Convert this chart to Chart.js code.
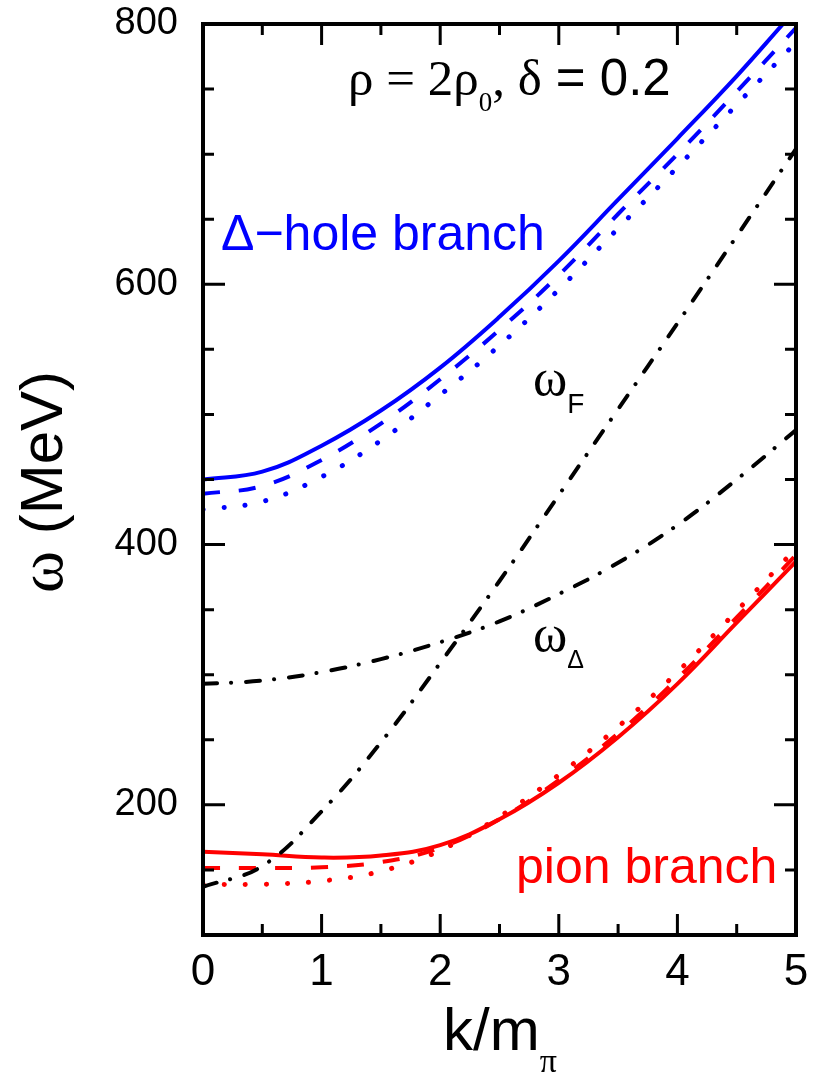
<!DOCTYPE html>
<html>
<head>
<meta charset="utf-8">
<script src="https://cdn.jsdelivr.net/npm/chart.js@4"></script>
<style>
  body { margin: 0; background: #fff; }
</style>
</head>
<body>
<canvas id="dispersion-chart" width="816" height="1082"></canvas>
<script>
 /*-------------------
 Data
 -------------------*/
 // k / m_pi
 const kGrid = [0, 0.5, 1, 1.5, 2, 2.5, 3, 3.5, 4, 4.5, 5];
 const kBlueSolid = [0, 0.5, 1, 1.5, 2, 2.5, 3, 3.5, 4, 4.5, 4.9];

 // Delta-hole branch (MeV)
 const deltaSolid  = [450, 456, 476, 503, 536, 575, 618, 665, 712, 760, 801];
 const deltaDashed = [439, 445, 465, 493, 527, 565, 607, 654, 700, 748, 797];
 const deltaDotted = [427, 433, 452, 480, 515, 553, 596, 643, 690, 738, 786];

 // pion branch (MeV)
 const pionSolid  = [164, 162, 159.5, 161, 169, 189, 217, 252, 293, 340, 387];
 const pionDashed = [151.5, 151.5, 152, 156, 167, 189, 219, 255, 297, 344, 392];
 const pionDotted = [139, 139, 141.5, 149, 165, 191, 223, 260, 302, 349, 397];

 // free dispersions, dash-dot
 const omegaF     = [137, 153, 195, 248, 309, 372, 438, 504, 570, 637, 704];
 const omegaDelta = [293, 295.5, 302, 312, 325, 341, 362, 386, 415, 450, 488];

 // ticks
 const kTicks  = [0, 0.5, 1, 1.5, 2, 2.5, 3, 3.5, 4, 4.5, 5];
 const kLabels = [0, 1, 2, 3, 4, 5];
 const wTicks  = [100, 150, 200, 250, 300, 350, 400, 450, 500, 550, 600, 650, 700, 750, 800];
 const wLabels = [200, 400, 600, 800];

 const SANS = "'Liberation Sans', Arial, sans-serif";
 const SERIF = "'Liberation Serif', 'Times New Roman', serif";
 const BLUE = '#0000ff';
 const RED = '#ff0000';

 const toPoints = (ks, ws) => ks.map((k, i) => ({ x: k, y: ws[i] }));

 const solid = [];
 const dashed = [17, 19];
 const dotted = [0.1, 21];
 const dashDot = [14, 14, 0.1, 15];

 function line(data, color, dash, width, cap) {
   return {
     data: data,
     borderColor: color,
     borderWidth: width,
     borderDash: dash,
     borderCapStyle: cap,
     pointRadius: 0,
     fill: false,
     tension: 0.4
   };
 }

 // no extra room for overflowing tick labels, the layout padding is exact
 function noPadding(scale) {
   scale.paddingTop = 0;
   scale.paddingBottom = 0;
   scale.paddingLeft = 0;
   scale.paddingRight = 0;
 }

 // ----------- Frame, inner ticks, texts ------------
 function drawRuns(ctx, x, y, runs, align) {
   let total = 0;
   runs.forEach(r => { ctx.font = r.font; total += ctx.measureText(r.t).width; });
   let cx = align === 'center' ? x - total / 2 : x;
   runs.forEach(r => {
     ctx.font = r.font;
     ctx.fillText(r.t, cx, y + (r.dy || 0));
     cx += ctx.measureText(r.t).width;
   });
 }

 const framePlugin = {
   id: 'frame',
   afterDatasetsDraw(chart) {
     const { ctx, chartArea: a, scales: { x, y } } = chart;
     ctx.save();
     ctx.strokeStyle = '#000';
     ctx.lineWidth = 3;
     ctx.lineCap = 'butt';
     ctx.beginPath();
     kTicks.forEach(v => {
       const px = x.getPixelForValue(v);
       const len = kLabels.includes(v) ? 21 : 11;
       ctx.moveTo(px, a.bottom); ctx.lineTo(px, a.bottom - len);
       ctx.moveTo(px, a.top); ctx.lineTo(px, a.top + len);
     });
     wTicks.forEach(v => {
       const py = y.getPixelForValue(v);
       const len = wLabels.includes(v) ? 22 : 11;
       ctx.moveTo(a.left, py); ctx.lineTo(a.left + len, py);
       ctx.moveTo(a.right, py); ctx.lineTo(a.right - len, py);
     });
     ctx.stroke();

     ctx.lineWidth = 4;
     ctx.strokeRect(a.left, a.top, a.right - a.left, a.bottom - a.top);

     ctx.textBaseline = 'alphabetic';
     ctx.textAlign = 'left';

     // header
     ctx.fillStyle = '#000';
     drawRuns(ctx, 348, 95, [
       { t: '\u03c1 = 2\u03c1', font: '51px ' + SERIF },
       { t: '0', font: '27px ' + SERIF, dy: 16 },
       { t: ', \u03b4', font: '51px ' + SERIF },
       { t: ' = 0.2', font: '51px ' + SANS }
     ]);

     // branch labels
     ctx.fillStyle = BLUE;
     ctx.font = '50px ' + SANS;
     ctx.fillText('\u0394\u2212hole branch', 221, 250);
     ctx.fillStyle = RED;
     ctx.fillText('pion branch', 516, 883);

     // omega labels
     ctx.fillStyle = '#000';
     drawRuns(ctx, 533, 395, [
       { t: '\u03c9', font: '52px ' + SERIF },
       { t: 'F', font: '28px ' + SANS, dy: 18 }
     ]);
     drawRuns(ctx, 533, 651, [
       { t: '\u03c9', font: '52px ' + SERIF },
       { t: '\u0394', font: '25px ' + SANS, dy: 17 }
     ]);

     // axis titles
     drawRuns(ctx, 500, 1050, [
       { t: 'k/m', font: '60px ' + SANS },
       { t: '\u03c0', font: '34px ' + SERIF, dy: 22 }
     ], 'center');

     ctx.translate(62, 482);
     ctx.rotate(-Math.PI / 2);
     drawRuns(ctx, 0, 0, [
       { t: '\u03c9', font: '64px ' + SERIF },
       { t: ' (MeV)', font: '60px ' + SANS }
     ], 'center');
     ctx.restore();
   }
 };

 /*-------------------
 Chart
 -------------------*/
 const canvas = document.getElementById('dispersion-chart');

 const dispersionData = {
   datasets: [
     line(toPoints(kGrid, omegaF), '#000', dashDot, 4, 'round'),
     line(toPoints(kGrid, omegaDelta), '#000', dashDot, 4, 'round'),
     line(toPoints(kBlueSolid, deltaSolid), BLUE, solid, 4, 'butt'),
     line(toPoints(kGrid, deltaDashed), BLUE, dashed, 4, 'butt'),
     line(toPoints(kGrid, deltaDotted), BLUE, dotted, 5, 'round'),
     line(toPoints(kGrid, pionSolid), RED, solid, 4, 'butt'),
     line(toPoints(kGrid, pionDashed), RED, dashed, 4, 'butt'),
     line(toPoints(kGrid, pionDotted), RED, dotted, 5, 'round')
   ]
 };

 const dispersionOptions = {
   responsive: false,
   devicePixelRatio: 1,
   animation: false,
   layout: { padding: { top: 24, right: 20, left: 0, bottom: 0 } },
   plugins: {
     legend: { display: false },
     tooltip: { enabled: false }
   },
   scales: {
     x: {
       type: 'linear',
       min: 0,
       max: 5,
       grid: { display: false, drawTicks: false },
       border: { display: false },
       ticks: {
         stepSize: 0.5,
         autoSkip: false,
         maxRotation: 0,
         padding: 11,
         color: '#000',
         font: { family: SANS, size: 44 },
         callback: v => kLabels.includes(v) ? String(v) : ''
       },
       afterFit: scale => { scale.height = 147; noPadding(scale); }
     },
     y: {
       type: 'linear',
       min: 100,
       max: 800,
       grid: { display: false, drawTicks: false },
       border: { display: false },
       ticks: {
         stepSize: 50,
         autoSkip: false,
         padding: 25,
         color: '#000',
         font: { family: SANS, size: 38 },
         callback: v => wLabels.includes(v) ? String(v) : ''
       },
       afterFit: scale => { scale.width = 203; noPadding(scale); }
     }
   }
 };

 let dispersionChart = new Chart(canvas, {
   type: 'line',
   data: dispersionData,
   options: dispersionOptions,
   plugins: [framePlugin]
 });
</script>
</body>
</html>
